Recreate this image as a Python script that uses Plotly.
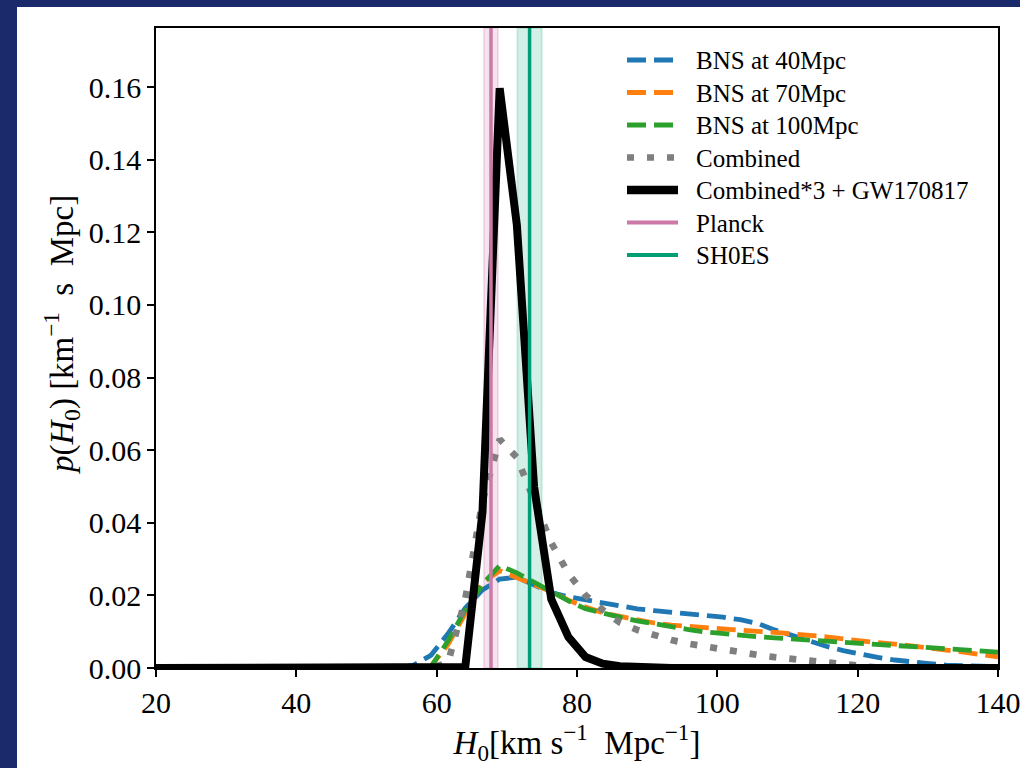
import plotly.graph_objects as go

# H0 grid (km/s/Mpc)
h0 = [20.00, 22.45, 24.90, 27.35, 29.80, 32.24, 34.69, 37.14, 39.59, 42.04,
      44.49, 46.94, 49.39, 51.84, 54.29, 56.73, 59.18, 61.63, 64.08, 66.53,
      68.98, 71.43, 73.88, 76.33, 78.78, 81.22, 83.67, 86.12, 88.57, 91.02,
      93.47, 95.92, 98.37, 100.82, 103.27, 105.71, 108.16, 110.61, 113.06, 115.51,
      117.96, 120.41, 122.86, 125.31, 127.76, 130.20, 132.65, 135.10, 137.55, 140.00]

bns40 = [0, 0, 0, 0, 0, 0, 0, 0, 0, 0,
         0, 0, 0, 0, 0, 0.0008, 0.0035, 0.0095, 0.0165, 0.0215,
         0.0245, 0.0250, 0.0228, 0.0208, 0.0196, 0.0187, 0.0180, 0.0170, 0.0163, 0.0158,
         0.0154, 0.0150, 0.0146, 0.0140, 0.0133, 0.0123, 0.0105, 0.0089, 0.0075, 0.0060,
         0.0048, 0.0038, 0.0029, 0.0022, 0.0016, 0.0012, 0.0008, 0.0006, 0.0005, 0.0004]

bns70 = [0, 0, 0, 0, 0, 0, 0, 0, 0, 0,
         0, 0, 0, 0, 0, 0, 0.0005, 0.0065, 0.0150, 0.0235,
         0.0268, 0.0250, 0.0230, 0.0210, 0.0187, 0.0168, 0.0152, 0.0142, 0.0132, 0.0124,
         0.0118, 0.0114, 0.0110, 0.0107, 0.0104, 0.0101, 0.0098, 0.0095, 0.0091, 0.0086,
         0.0080, 0.0074, 0.0070, 0.0066, 0.0061, 0.0056, 0.0050, 0.0044, 0.0037, 0.0031]

bns100 = [0, 0, 0, 0, 0, 0, 0, 0, 0, 0,
          0, 0, 0, 0, 0, 0, 0.0003, 0.0075, 0.0160, 0.0230,
          0.0282, 0.0262, 0.0236, 0.0210, 0.0185, 0.0163, 0.0150, 0.0140, 0.0130, 0.0121,
          0.0113, 0.0106, 0.0099, 0.0094, 0.0090, 0.0086, 0.0083, 0.0080, 0.0077, 0.0073,
          0.0070, 0.0067, 0.0064, 0.0061, 0.0058, 0.0055, 0.0052, 0.0049, 0.0047, 0.0044]

combined = [0, 0, 0, 0, 0, 0, 0, 0, 0, 0,
            0, 0, 0, 0, 0, 0, 0, 0.0015, 0.0190, 0.0460,
            0.0630, 0.0580, 0.0460, 0.0345, 0.0260, 0.0200, 0.0160, 0.0125, 0.0105, 0.0090,
            0.0077, 0.0067, 0.0059, 0.0049, 0.0042, 0.0036, 0.0030, 0.0025, 0.0018, 0.0012,
            0.0007, 0.0004, 0.0001, 0, 0, 0, 0, 0, 0, 0]

combined_gw = [0, 0, 0, 0, 0, 0, 0, 0, 0, 0,
               0, 0, 0, 0, 0, 0, 0, 0, 0.0003, 0.0430,
               0.1597, 0.1220, 0.0500, 0.0190, 0.0085, 0.0030, 0.0012, 0.0005, 0.0002, 0.0001,
               0, 0, 0, 0, 0, 0, 0, 0, 0, 0,
               0, 0, 0, 0, 0, 0, 0, 0, 0, 0]

planck_h0, planck_err = 67.74, 1.0
shoes_h0, shoes_err = 73.24, 1.74

legend_labels = ["BNS at 40Mpc", "BNS at 70Mpc", "BNS at 100Mpc", "Combined",
                 "Combined*3 + GW170817", "Planck", "SH0ES"]

x_ticks = [20, 40, 60, 80, 100, 120, 140]
y_ticks = [0.00, 0.02, 0.04, 0.06, 0.08, 0.10, 0.12, 0.14, 0.16]
y_top = 0.1763

FONT = "Liberation Serif"

# plot area in pixels (for paper-coordinate helpers)
PL, PR, PT, PB = 156, 998, 28, 668
W, H = 1020, 768


def px(xp):
    return (xp - PL) / (PR - PL)


def py(yp):
    return (PB - yp) / (PB - PT)


fig = go.Figure()

styles = [
    ("#1f77b4", 4.8, "19px,8px"),
    ("#ff7f0e", 4.8, "19px,8px"),
    ("#2ca02c", 4.8, "19px,8px"),
    ("#7f7f7f", 6.7, "7px,13px"),
    ("black", 8.3, "solid"),
    ("#CC79A7", 4, "solid"),
    ("#009E73", 4, "solid"),
]

curves = [bns40, bns70, bns100, combined, combined_gw]
for i, vals in enumerate(curves):
    col, w, dash = styles[i]
    fig.add_trace(go.Scatter(x=h0, y=vals, mode="lines", name=legend_labels[i],
                             showlegend=False,
                             line=dict(color=col, width=min(w, 8) if i < 4 else 8,
                                       dash=dash)))

for i, v in [(5, planck_h0), (6, shoes_h0)]:
    col, w, dash = styles[i]
    fig.add_trace(go.Scatter(x=[v, v], y=[0, y_top], mode="lines", name=legend_labels[i],
                             showlegend=False, line=dict(color=col, width=3.5)))

bands = [(planck_h0, planck_err, "rgba(204,121,167,0.22)"),
         (shoes_h0, shoes_err, "rgba(0,158,115,0.17)")]
for c, e, fc in bands:
    fig.add_shape(type="rect", xref="x", yref="y", x0=c - e, x1=c + e, y0=0, y1=y_top,
                  fillcolor=fc, line=dict(color=fc, width=2), layer="below")

# white figure panel on the dark slide background
fig.add_shape(type="rect", xref="paper", yref="paper",
              x0=px(17), x1=px(W + 5), y0=py(H + 5), y1=py(7),
              fillcolor="white", line=dict(width=0), layer="below")

# legend (drawn as line samples + labels)
row_y = [60, 92.5, 125, 157.5, 190, 222.5, 255]
for i, label in enumerate(legend_labels):
    col, w, dash = styles[i]
    fig.add_shape(type="line", xref="paper", yref="paper",
                  x0=px(627), x1=px(678), y0=py(row_y[i]), y1=py(row_y[i]),
                  line=dict(color=col, width=w, dash=dash))
    fig.add_annotation(xref="paper", yref="paper", x=px(694), y=py(row_y[i] + 1),
                       xanchor="left", yanchor="middle", showarrow=False,
                       text=label, font=dict(family=FONT, size=25, color="black"))

# y-axis title
fig.add_annotation(xref="paper", yref="paper", x=px(61), y=py(335),
                   xanchor="center", yanchor="middle", showarrow=False, textangle=-90,
                   text="<i>p</i>(<i>H</i><sub>0</sub>)\u00a0[km<sup>−1</sup>\u00a0 s\u00a0 Mpc]",
                   font=dict(family=FONT, size=33, color="black"))

fig.update_layout(
    width=W, height=H,
    margin=dict(l=PL, r=W - PR, t=PT, b=H - PB, autoexpand=False),
    paper_bgcolor="#1b2a6b",
    plot_bgcolor="white",
    font=dict(family=FONT, color="black", size=30),
    showlegend=False,
)
fig.update_xaxes(range=[20, 140], tickmode="array", tickvals=x_ticks,
                 ticktext=[str(t) for t in x_ticks], ticklabeloverflow="allow",
                 automargin=False,
                 showgrid=False, zeroline=False, showline=True, mirror=True,
                 linecolor="black", linewidth=1.5, ticks="outside", ticklen=7,
                 tickwidth=1.5, tickcolor="black",
                 tickfont=dict(family=FONT, size=30, color="black"),
                 title=dict(text="<i>H</i><sub>0</sub>[km s<sup>−1</sup>\u00a0 Mpc<sup>−1</sup>]",
                            font=dict(family=FONT, size=33, color="black"), standoff=6))
fig.update_yaxes(range=[0, y_top], tickmode="array", tickvals=y_ticks,
                 ticktext=[f"{t:.2f}" for t in y_ticks], automargin=False,
                 showgrid=False, zeroline=False, showline=True, mirror=True,
                 linecolor="black", linewidth=1.5, ticks="outside", ticklen=7,
                 tickwidth=1.5, tickcolor="black",
                 tickfont=dict(family=FONT, size=30, color="black"))

fig.write_html("out.html", config={"displayModeBar": False},
               post_script="document.body.style.margin='0';"
                           "document.body.style.overflow='hidden';"
                           "document.body.style.background='#1b2a6b';")
